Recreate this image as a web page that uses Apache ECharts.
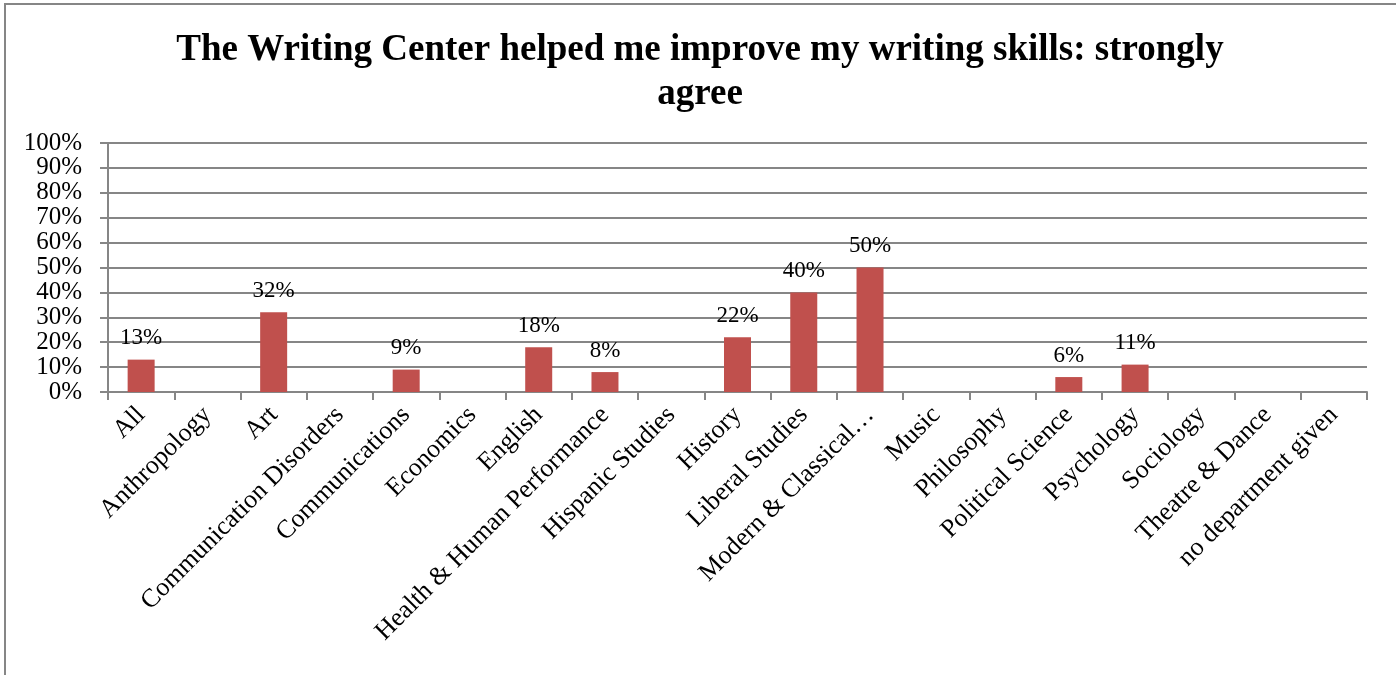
<!DOCTYPE html>
<html><head><meta charset="utf-8">
<script src="https://cdn.jsdelivr.net/npm/echarts@6/dist/echarts.min.js"></script>
<style>html,body{margin:0;padding:0;background:#fff}#c{width:1396px;height:675px}</style>
</head><body><div id="c"></div>
<script>
const categories = ["All","Anthropology","Art","Communication Disorders","Communications","Economics","English","Health & Human Performance","Hispanic Studies","History","Liberal Studies","Modern & Classical\u2026","Music","Philosophy","Political Science","Psychology","Sociology","Theatre & Dance","no department given"];
const values = [13, null, 32, null, 9, null, 18, 8, null, 22, 40, 50, null, null, 6, 11, null, null, null];
const yTicks = {min: 0, max: 100, interval: 10};
const titleText = "The Writing Center helped me improve my writing skills: strongly\nagree";

const font = "'Liberation Serif','Times New Roman',serif";
const chart = echarts.init(document.getElementById('c'));
chart.setOption({
  animation: false,
  graphic: [
    {type: 'polyline', shape: {points: [[5, 675], [5, 4], [1396, 4]]}, style: {stroke: '#868686', lineWidth: 2, fill: null}},
    {type: 'text', x: 700, y: 28, style: {text: titleText, align: 'center', verticalAlign: 'top', font: "bold 37px 'Liberation Serif', serif", fill: '#000', lineHeight: 44}}
  ],
  grid: {left: 108, right: 29, top: 143, bottom: 283, containLabel: false},
  xAxis: {type: 'category', data: categories,
    axisLine: {lineStyle: {color: '#868686', width: 2}},
    axisTick: {show: true, length: 8, lineStyle: {color: '#868686', width: 2}},
    axisLabel: {rotate: 45, interval: 0, margin: 19, fontFamily: font, fontSize: 26, color: '#000'}},
  yAxis: {type: 'value', min: yTicks.min, max: yTicks.max, interval: yTicks.interval,
    axisLine: {show: true, lineStyle: {color: '#868686', width: 2}},
    axisTick: {show: true, length: 8, lineStyle: {color: '#868686', width: 2}},
    splitLine: {lineStyle: {color: '#868686', width: 2}},
    axisLabel: {formatter: '{value}%', margin: 26, fontFamily: font, fontSize: 25, color: '#000'}},
  series: [{type: 'bar', data: values, barWidth: 27, itemStyle: {color: '#C0504D'},
    label: {show: true, position: 'top', distance: 10, formatter: p => p.value + '%', fontFamily: font, fontSize: 23, color: '#000'}}]
});
</script></body></html>
